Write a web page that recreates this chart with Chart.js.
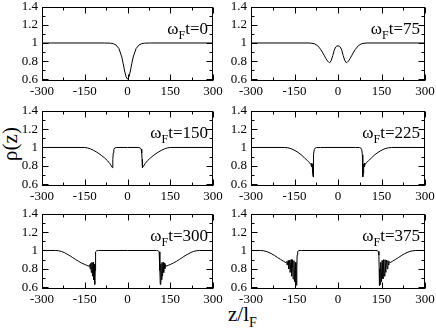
<!DOCTYPE html>
<html><head><meta charset="utf-8">
<script src="https://cdn.jsdelivr.net/npm/chart.js@4/dist/chart.umd.min.js"></script>
<style>
html,body{margin:0;padding:0;background:#fff;}
#wrap{position:relative;width:436px;height:334px;overflow:hidden;background:#fff;font-family:"Liberation Serif","Times New Roman",serif;color:#000;}
#wrap canvas{position:absolute;}
#ylab{position:absolute;left:-20px;top:132px;width:60px;height:24px;line-height:24px;text-align:center;font-size:21px;transform:rotate(-90deg);}
#xlab{position:absolute;left:228px;top:304px;font-size:21px;line-height:21px;white-space:nowrap;}
#xlab sub{font-size:14px;vertical-align:-6px;line-height:0;}
</style></head><body>
<div id="wrap">
  <div id="ylab">ρ(z)</div>
  <div id="xlab">z/l<sub>F</sub></div>
</div>
<script>
// ---------- data ----------
const timeLabels = ['0','75','150','225','300','375'];
const xTicks = [-300,-150,0,150,300];
const xMinorTicks = [-225,-75,75,225];
const yTicks = [0.6,0.8,1,1.2,1.4];
const yTickLabels = ['0.6','0.8','1','1.2','1.4'];
const yMinorTicks = [0.7,0.9,1.1,1.3];

const z0 = [-300,-80,-60,-50,-40,-30,-20,-15,-10,-5,0,5,10,15,20,30,40,50,60,80,300];
const rho0 = [1,1,0.998,0.993,0.977,0.938,0.845,0.77,0.69,0.625,0.6,0.625,0.69,0.77,0.845,0.938,0.977,0.993,0.998,1,1];

const z75 = [-300,-100,-90,-80,-70,-60,-54,-48,-42,-36,-32,-30,-27,-23,-18,-13,-8,-4,0,4,8,13,18,23,27,30,32,36,42,48,54,60,70,80,90,100,300];
const rho75 = [1,1,0.997,0.99,0.97,0.93,0.9,0.865,0.83,0.8,0.787,0.783,0.787,0.81,0.86,0.92,0.955,0.966,0.968,0.966,0.955,0.92,0.86,0.81,0.787,0.783,0.787,0.8,0.83,0.865,0.9,0.93,0.97,0.99,0.997,1,1];

const z150 = [-300,-150,-140,-130,-120,-110,-100,-90,-80,-70,-62,-57,-53,-52,-51,-50,-48,-45,-40,-30,0,30,40,45,48,50,51,52,53,57,62,70,80,90,100,110,120,130,140,150,300];
const rho150 = [1,1,0.995,0.985,0.97,0.953,0.933,0.91,0.885,0.855,0.825,0.8,0.78,0.8,0.87,0.94,0.98,0.994,0.999,1,1,1,0.999,0.994,0.98,0.94,0.87,0.8,0.78,0.8,0.825,0.855,0.885,0.91,0.933,0.953,0.97,0.985,0.995,1,1];

const z225 = [-300,-185,-175,-165,-155,-145,-135,-125,-115,-105,-97,-94,-92,-91,-90,-89,-88,-87,-86,-85,-84,-82,-79,-74,-60,0,60,74,79,82,84,85,86,87,88,89,90,91,92,94,97,105,115,125,135,145,155,165,175,185,300];
const rho225 = [1,1,0.997,0.99,0.978,0.96,0.94,0.915,0.885,0.855,0.83,0.815,0.8,0.83,0.79,0.82,0.76,0.72,0.68,0.78,0.92,0.975,0.993,0.999,1,1,1,0.999,0.993,0.975,0.92,0.78,0.68,0.72,0.76,0.82,0.79,0.83,0.8,0.815,0.83,0.855,0.885,0.915,0.94,0.96,0.978,0.99,0.997,1,1];

const z300 = [-300,-252,-242,-232,-222,-212,-202,-192,-182,-172,-162,-152,-143,-136,-133,-131,-129,-127,-125,-123,-121,-119,-117,-115,-114,-113,-111,-108,-102,0,102,108,111,113,114,115,117,119,121,123,125,127,129,131,133,136,143,152,162,172,182,192,202,212,222,232,242,252,300];
const rho300 = [1,1,0.997,0.99,0.978,0.96,0.943,0.922,0.902,0.882,0.865,0.85,0.838,0.828,0.845,0.8,0.86,0.76,0.87,0.72,0.87,0.68,0.85,0.63,0.78,0.93,0.985,0.997,1,1,1,0.997,0.985,0.93,0.78,0.63,0.85,0.68,0.87,0.72,0.87,0.76,0.86,0.8,0.845,0.828,0.838,0.85,0.865,0.882,0.902,0.922,0.943,0.96,0.978,0.99,0.997,1,1];

const z375 = [-300,-268,-258,-248,-238,-228,-218,-208,-198,-188,-180,-177,-175,-172,-170,-167,-165,-162,-160,-157,-155,-152,-150,-147,-145,-143,-142,-141,-139,-135,-125,0,125,135,139,141,142,143,145,147,150,152,155,157,160,162,165,167,170,172,175,177,180,188,198,208,218,228,238,248,258,268,300];
const rho375 = [1,1,0.997,0.99,0.978,0.962,0.943,0.922,0.902,0.883,0.868,0.88,0.84,0.89,0.8,0.895,0.76,0.9,0.72,0.9,0.69,0.89,0.66,0.87,0.63,0.62,0.8,0.95,0.99,0.999,1,1,1,0.999,0.99,0.95,0.8,0.62,0.63,0.87,0.66,0.89,0.69,0.9,0.72,0.9,0.76,0.895,0.8,0.89,0.84,0.88,0.868,0.883,0.902,0.922,0.943,0.962,0.978,0.99,0.997,1,1];

const panelZ = [z0,z75,z150,z225,z300,z375];
const panelRho = [rho0,rho75,rho150,rho225,rho300,rho375];

// ---------- layout ----------
const colLR = [[42,213],[251,425]];
const rowTB = [[5,81],[109,186],[212,289]];
const PADL = 42, PADT = 10, PADR = 22, PADB = 26;
const MAJ = 6, MIN = 3;
const FONT = '"Liberation Serif", serif';

const framePlugin = {
  id: 'frame',
  afterDatasetsDraw(chart, args, opts) {
    const ctx = chart.ctx, a = chart.chartArea, xs = chart.scales.x, ys = chart.scales.y;
    ctx.save();
    ctx.strokeStyle = '#000';
    ctx.lineWidth = 1;
    const L = Math.round(a.left) + 0.5, R = Math.round(a.right) - 0.5;
    const T = Math.round(a.top) + 0.5, B = Math.round(a.bottom) - 0.5;
    ctx.strokeRect(L, T, R - L, B - T);
    const seg = (x1, y1, x2, y2) => { ctx.beginPath(); ctx.moveTo(x1, y1); ctx.lineTo(x2, y2); ctx.stroke(); };
    const xt = (v, len) => { const p = Math.round(xs.getPixelForValue(v)) + 0.5; seg(p, B, p, B - len); seg(p, T, p, T + len); };
    const yt = (v, len) => { const p = Math.round(ys.getPixelForValue(v)) + 0.5; seg(L, p, L + len, p); seg(R, p, R - len, p); };
    xTicks.forEach(v => xt(v, MAJ));
    xMinorTicks.forEach(v => xt(v, MIN));
    yTicks.forEach(v => yt(v, MAJ));
    yMinorTicks.forEach(v => yt(v, MIN));
    // panel label  ω_F t = ...
    const rest = 't=' + opts.t;
    const big = '17px ' + FONT, small = '12px ' + FONT;
    ctx.fillStyle = '#000';
    ctx.textBaseline = 'alphabetic';
    ctx.textAlign = 'left';
    ctx.font = big;
    const wO = ctx.measureText('ω').width, wR = ctx.measureText(rest).width;
    ctx.font = small;
    const wF = ctx.measureText('F').width;
    const x0 = a.right - 5 - wR - wF - wO;
    const base = a.top + 27;
    ctx.font = big; ctx.fillText('ω', x0, base);
    ctx.font = small; ctx.fillText('F', x0 + wO, base + 5);
    ctx.font = big; ctx.fillText(rest, x0 + wO + wF, base);
    ctx.restore();
  }
};

function build() {
  const wrap = document.getElementById('wrap');
  for (let i = 0; i < 6; i++) {
    const col = i % 2, row = Math.floor(i / 2);
    const [Lp, Rp] = colLR[col], [Tp, Bp] = rowTB[row];
    const cv = document.createElement('canvas');
    const w = Rp - Lp + PADL + PADR, h = Bp - Tp + PADT + PADB;
    cv.width = w; cv.height = h;
    cv.style.left = (Lp - PADL) + 'px';
    cv.style.top = (Tp - PADT) + 'px';
    cv.style.width = w + 'px'; cv.style.height = h + 'px';
    wrap.appendChild(cv);
    const pts = panelZ[i].map((z, k) => ({ x: z, y: panelRho[i][k] }));
    new Chart(cv, {
      type: 'line',
      data: { datasets: [{ data: pts, borderColor: '#000', borderWidth: 1, pointRadius: 0, tension: 0, fill: false }] },
      options: {
        responsive: false, animation: false, devicePixelRatio: 1,
        layout: { padding: { top: PADT, right: PADR, left: 0, bottom: 0 } },
        plugins: { legend: { display: false }, tooltip: { enabled: false }, frame: { t: timeLabels[i] } },
        scales: {
          x: {
            type: 'linear', min: -300, max: 300,
            grid: { display: false, drawTicks: false }, border: { display: false },
            afterBuildTicks: s => { s.ticks = xTicks.map(v => ({ value: v })); },
            afterFit: s => { s.height = PADB; },
            ticks: { autoSkip: false, maxRotation: 0, padding: 3, color: '#000', font: { family: FONT, size: 13 }, callback: v => String(v) }
          },
          y: {
            type: 'linear', min: 0.58, max: 1.4,
            grid: { display: false, drawTicks: false }, border: { display: false },
            afterBuildTicks: s => { s.ticks = yTicks.map(v => ({ value: v })); },
            afterFit: s => { s.width = PADL; },
            ticks: { autoSkip: false, padding: 4, color: '#000', font: { family: FONT, size: 13 }, callback: (v, idx) => yTickLabels[idx] }
          }
        }
      },
      plugins: [framePlugin]
    });
  }
}
Chart.defaults.font.family = FONT;
Promise.all([
  document.fonts.load('13px "Liberation Serif"'),
  document.fonts.load('17px "Liberation Serif"')
]).catch(() => {}).then(build);
</script>
</body></html>
